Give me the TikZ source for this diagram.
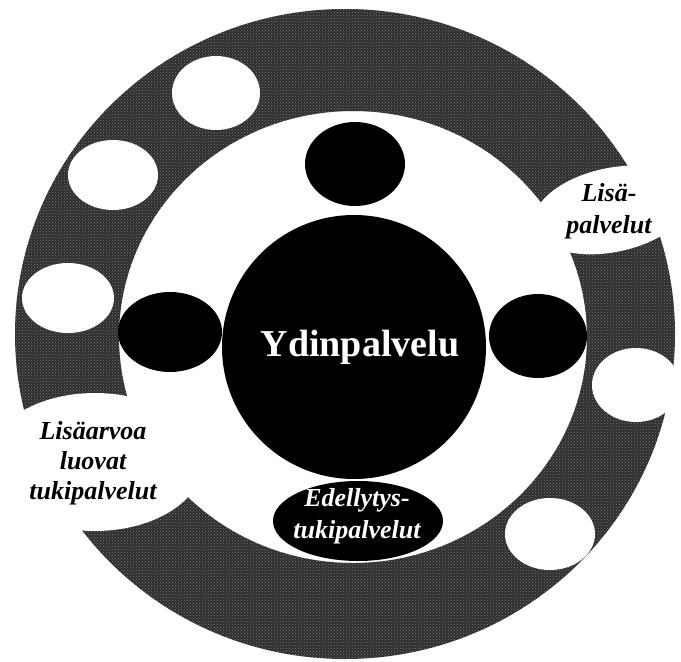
\documentclass[tikz,border=0pt]{standalone}
\usepackage{fontspec}
\setmainfont{Liberation Serif}
\usetikzlibrary{shapes.geometric,patterns}
\begin{document}
\begin{tikzpicture}[x=1pt,y=-1pt,
  ringfill/.style={fill=black!82},
  ringdots/.style={pattern=crosshatch dots, pattern color=black!52},
  hole/.style={ellipse, fill=white, inner sep=0pt, outer sep=0pt},
  blob/.style={ellipse, fill=black, inner sep=0pt, outer sep=0pt},
  lab/.style={font=\fontsize{26}{32}\selectfont\bfseries\itshape, align=center, inner sep=0pt},
  wlab/.style={lab, text=white},
  coretext/.style={font=\fontsize{38}{40}\selectfont\bfseries, text=white, inner sep=0pt}]
\useasboundingbox (0,0) rectangle (681,662);
\fill[white] (0,0) rectangle (681,662);
% textured ring
\fill[ringfill, even odd rule] (345,334) ellipse [x radius=330pt, y radius=325pt]
  (353,337) ellipse [x radius=234pt, y radius=226pt];
\fill[ringdots, even odd rule] (345,334) ellipse [x radius=330pt, y radius=325pt]
  (353,337) ellipse [x radius=234pt, y radius=226pt];
% white holes in the ring
\node[hole, minimum width=88pt, minimum height=74pt] (h1) at (216,93) {};
\node[hole, minimum width=90pt, minimum height=70pt] (h2) at (113,175) {};
\node[hole, minimum width=92pt, minimum height=70pt] (h3) at (68,298) {};
\node[hole, minimum width=88pt, minimum height=74pt] (h4) at (636,385) {};
\node[hole, minimum width=90pt, minimum height=72pt] (h5) at (550,534) {};
% gaps in the ring
\node[hole, minimum width=160pt, minimum height=84pt, rotate=12] (gR) at (612,210) {};
\node[hole, minimum width=216pt, minimum height=138pt] (gL) at (95,462) {};
% black shapes
\node[blob, minimum width=100pt, minimum height=84pt] (bt) at (355,164) {};
\node[blob, minimum width=104pt, minimum height=80pt] (bl) at (170,332) {};
\node[blob, minimum width=98pt, minimum height=84pt] (br) at (538,336) {};
\node[blob, circle, minimum size=264pt] (core) at (354,347) {};
\node[blob, minimum width=170pt, minimum height=80pt] (edel) at (358,521) {};
% texts
\node[coretext] (ty) at (360,347) {Ydinpalvelu};
\node[wlab] (te) at (357,516) {Edellytys-\\tukipalvelut};
\node[lab] (tR) at (609,211) {Lisä-\\palvelut};
\node[lab, font=\fontsize{26}{30}\selectfont\bfseries\itshape] (tL) at (93,463) {Lisäarvoa\\luovat\\tukipalvelut};
\end{tikzpicture}
\end{document}
